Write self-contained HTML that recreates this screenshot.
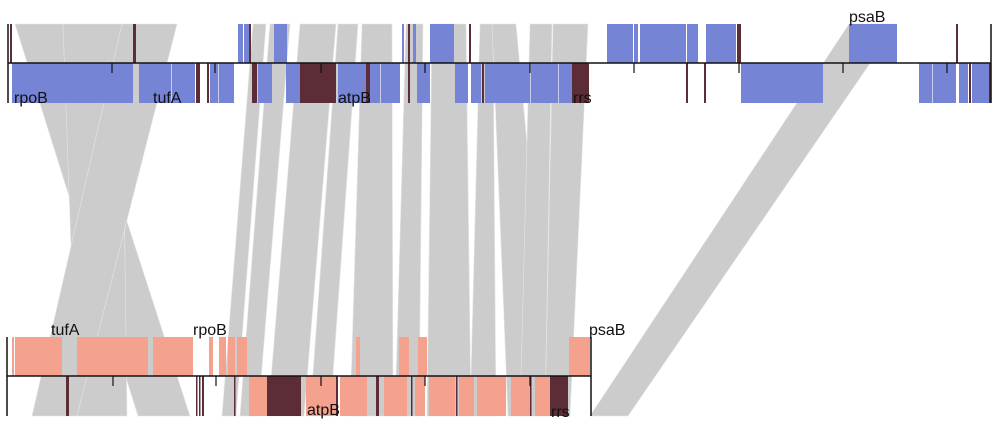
<!DOCTYPE html>
<html><head><meta charset="utf-8"><style>
html,body{margin:0;padding:0;background:#fff;}
svg{display:block;}
text{font-family:"Liberation Sans",sans-serif;font-size:16px;fill:#111;}
</style></head><body>
<svg width="1000" height="430" viewBox="0 0 1000 430" xmlns="http://www.w3.org/2000/svg">
<g fill="#cccccc" stroke="#e6e6e6" stroke-width="0.6">
<polygon points="15,24 63,24 190,416 138,416"/>
<polygon points="63,24 122,24 127,416 77,416"/>
<polygon points="122,24 177,24 77,416 32,416"/>
<polygon points="253,24 266,24 236,416 222,416"/>
<polygon points="270,24 290,24 258,416 240,416"/>
<polygon points="300,24 336,24 304,416 268,416"/>
<polygon points="338,24 358,24 330,416 310,416"/>
<polygon points="362,24 392,24 393,416 350,416"/>
<polygon points="406,24 423,24 419,416 395,416"/>
<polygon points="432,24 466,24 471,416 427,416"/>
<polygon points="480,24 493,24 496,416 470,416"/>
<polygon points="492,24 516,24 552,416 508,416"/>
<polygon points="530,24 552,24 545,416 520,416"/>
<polygon points="553,24 588,24 570,416 545,416"/>
<polygon points="849,24 897,24 628,416 590,416"/>
</g>
<g fill="#7584d5">
<rect x="238" y="24" width="5" height="39"/><rect x="244" y="24" width="5" height="39"/>
<rect x="274" y="24" width="13" height="39"/><rect x="402" y="24" width="2" height="39"/>
<rect x="413" y="24" width="3" height="39"/><rect x="430" y="24" width="24" height="39"/>
<rect x="607" y="24" width="26" height="39"/><rect x="634" y="24" width="4" height="39"/>
<rect x="640" y="24" width="46" height="39"/><rect x="687" y="24" width="11" height="39"/>
<rect x="706" y="24" width="30" height="39"/><rect x="849" y="24" width="48" height="39"/>
<rect x="12" y="63" width="121" height="40"/><rect x="139" y="63" width="56" height="40"/>
<rect x="210" y="63" width="24" height="40"/><rect x="258" y="63" width="14" height="40"/>
<rect x="286" y="63" width="14" height="40"/><rect x="338" y="63" width="62" height="40"/>
<rect x="417" y="63" width="13" height="40"/><rect x="455" y="63" width="13" height="40"/>
<rect x="471" y="63" width="10" height="40"/><rect x="485" y="63" width="87" height="40"/>
<rect x="741" y="63" width="82" height="40"/><rect x="919" y="63" width="37" height="40"/>
<rect x="959" y="63" width="9" height="40"/><rect x="972" y="63" width="18" height="40"/>
</g>
<g fill="#ffffff" opacity="0.6">
<rect x="171" y="63" width="1" height="40"/><rect x="218" y="63" width="1" height="40"/>
<rect x="380" y="63" width="1" height="40"/><rect x="530" y="63" width="1" height="40"/>
<rect x="558" y="63" width="1" height="40"/><rect x="932" y="63" width="1" height="40"/>
</g>
<g fill="#5c2d36">
<rect x="10" y="24" width="2" height="39"/><rect x="133" y="24" width="3" height="39"/>
<rect x="249" y="24" width="2" height="39"/><rect x="408" y="24" width="2" height="39"/>
<rect x="469" y="24" width="2" height="39"/><rect x="737" y="24" width="4" height="39"/>
<rect x="956" y="24" width="2" height="39"/>
<rect x="196" y="63" width="4" height="40"/><rect x="207" y="63" width="2" height="40"/>
<rect x="252" y="63" width="5" height="40"/><rect x="300" y="63" width="36" height="40"/>
<rect x="366" y="63" width="4" height="40"/><rect x="408" y="63" width="2" height="40"/>
<rect x="482" y="63" width="2" height="40"/><rect x="572" y="63" width="17" height="40"/>
<rect x="686" y="63" width="2" height="40"/><rect x="704" y="63" width="2" height="40"/>
<rect x="969" y="63" width="2" height="40"/><rect x="989" y="63" width="2" height="40"/>
</g>
<g fill="#f4a28e">
<rect x="12" y="337" width="2" height="39"/><rect x="15" y="337" width="47" height="39"/>
<rect x="77" y="337" width="71" height="39"/><rect x="153" y="337" width="40" height="39"/>
<rect x="209" y="337" width="4" height="39"/><rect x="219" y="337" width="7" height="39"/>
<rect x="228" y="337" width="7" height="39"/><rect x="237" y="337" width="10" height="39"/>
<rect x="356" y="337" width="4" height="39"/><rect x="399" y="337" width="10" height="39"/>
<rect x="418" y="337" width="9" height="39"/><rect x="569" y="337" width="21" height="39"/>
<rect x="249" y="376" width="18" height="40"/><rect x="306" y="376" width="30" height="40"/>
<rect x="340" y="376" width="27" height="40"/><rect x="384" y="376" width="23" height="40"/>
<rect x="415" y="376" width="10" height="40"/><rect x="429" y="376" width="26" height="40"/>
<rect x="459" y="376" width="15" height="40"/><rect x="477" y="376" width="29" height="40"/>
<rect x="511" y="376" width="19" height="40"/><rect x="535" y="376" width="15" height="40"/>
</g>
<g fill="#5c2d36">
<rect x="66" y="376" width="3" height="40"/><rect x="196" y="376" width="1.5" height="40"/>
<rect x="199" y="376" width="1.5" height="40"/><rect x="202" y="376" width="2" height="40"/>
<rect x="234" y="376" width="1.5" height="40"/><rect x="267" y="376" width="34" height="40"/>
<rect x="336" y="376" width="2" height="40"/><rect x="376" y="376" width="3" height="40"/>
<rect x="411" y="376" width="1.5" height="40"/><rect x="456" y="376" width="1.5" height="40"/>
<rect x="530" y="376" width="1.5" height="40"/><rect x="550" y="376" width="18" height="40"/>
</g>
<g stroke="#111" stroke-width="1.5" fill="none">
<line x1="8" y1="63" x2="991" y2="63"/>
<line x1="8" y1="24" x2="8" y2="103"/><line x1="991" y1="24" x2="991" y2="103"/>
<line x1="7" y1="376" x2="591" y2="376"/>
<line x1="7" y1="337" x2="7" y2="416"/><line x1="591" y1="337" x2="591" y2="416"/>
</g>
<g stroke="#111" stroke-width="1.2">
<line x1="112" y1="63" x2="112" y2="73"/><line x1="215" y1="63" x2="215" y2="73"/>
<line x1="321" y1="63" x2="321" y2="73"/><line x1="425" y1="63" x2="425" y2="73"/>
<line x1="530" y1="63" x2="530" y2="73"/><line x1="634" y1="63" x2="634" y2="73"/>
<line x1="739" y1="63" x2="739" y2="73"/><line x1="843" y1="63" x2="843" y2="73"/>
<line x1="947" y1="63" x2="947" y2="73"/>
<line x1="113" y1="376" x2="113" y2="386"/><line x1="216" y1="376" x2="216" y2="386"/>
<line x1="321" y1="376" x2="321" y2="386"/><line x1="425" y1="376" x2="425" y2="386"/>
<line x1="530" y1="376" x2="530" y2="386"/>
</g>
<text x="14" y="103">rpoB</text>
<text x="153" y="103">tufA</text>
<text x="338" y="103">atpB</text>
<text x="573" y="103">rrs</text>
<text x="849" y="22">psaB</text>
<text x="51" y="335">tufA</text>
<text x="193" y="335">rpoB</text>
<text x="589" y="335">psaB</text>
<text x="307" y="415">atpB</text>
<text x="551" y="417">rrs</text>
</svg>
</body></html>
